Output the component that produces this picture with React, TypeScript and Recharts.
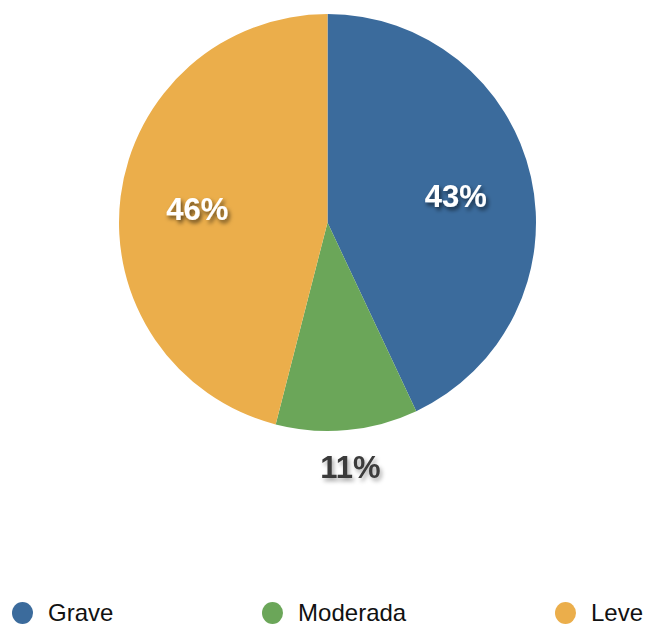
import { PieChart, Pie, Cell, Legend } from 'recharts';

const categories = ['Grave', 'Moderada', 'Leve'];
const values = [43, 11, 46];
const colors = ['#3b6b9c', '#6ba659', '#ebae4b'];

const data = categories.map((name, i) => ({ name, value: values[i] }));

const RADIAN = Math.PI / 180;

function renderLabel(props: any) {
  const { cx, cy, midAngle, outerRadius, percent } = props;
  const small = percent < 0.15;
  const r = small ? outerRadius + 35 : outerRadius * 0.63;
  const x = cx + r * Math.cos(-midAngle * RADIAN);
  const y = cy + r * Math.sin(-midAngle * RADIAN) + 3;
  return (
    <text
      x={x}
      y={y}
      textAnchor="middle"
      dominantBaseline="central"
      fill={small ? '#3a3a3a' : '#ffffff'}
      fontSize={31}
      fontWeight="bold"
      fontFamily="'Liberation Sans', Arial, sans-serif"
      filter={small ? 'url(#shadowLight)' : 'url(#shadowDark)'}
    >
      {`${Math.round(percent * 100)}%`}
    </text>
  );
}

function renderLegend() {
  return (
    <div
      style={{
        display: 'flex',
        justifyContent: 'space-between',
        padding: '0 4px 0 12px',
        fontFamily: "'Liberation Sans', Arial, sans-serif",
        fontSize: 24,
        color: '#111',
      }}
    >
      {categories.map((c, i) => (
        <div key={c} style={{ display: 'flex', alignItems: 'center' }}>
          <span
            style={{
              display: 'inline-block',
              width: 21,
              height: 22,
              borderRadius: '50%',
              background: colors[i],
              marginRight: 15,
            }}
          />
          {c}
        </div>
      ))}
    </div>
  );
}

export default function App() {
  return (
    <div style={{ position: 'absolute', left: 0, top: 0, width: 647, height: 625, background: '#fff' }}>
      <PieChart width={647} height={625} margin={{ top: 0, right: 0, bottom: 0, left: 0 }}>
        <defs>
          <filter id="shadowDark" x="-30%" y="-30%" width="160%" height="160%">
            <feDropShadow dx="2" dy="3" stdDeviation="2" floodColor="#000" floodOpacity="0.6" />
          </filter>
          <filter id="shadowLight" x="-30%" y="-30%" width="160%" height="160%">
            <feDropShadow dx="2" dy="3" stdDeviation="2" floodColor="#000" floodOpacity="0.35" />
          </filter>
        </defs>
        <Pie
          data={data}
          dataKey="value"
          nameKey="name"
          cx={327.5}
          cy={222.5}
          outerRadius={208.5}
          startAngle={90}
          endAngle={-270}
          stroke="none"
          label={renderLabel}
          labelLine={false}
          isAnimationActive={false}
        >
          {data.map((d, i) => (
            <Cell key={d.name} fill={colors[i]} />
          ))}
        </Pie>
        <Legend
          content={renderLegend}
          wrapperStyle={{ left: 0, top: 599, width: 647 }}
        />
      </PieChart>
    </div>
  );
}
